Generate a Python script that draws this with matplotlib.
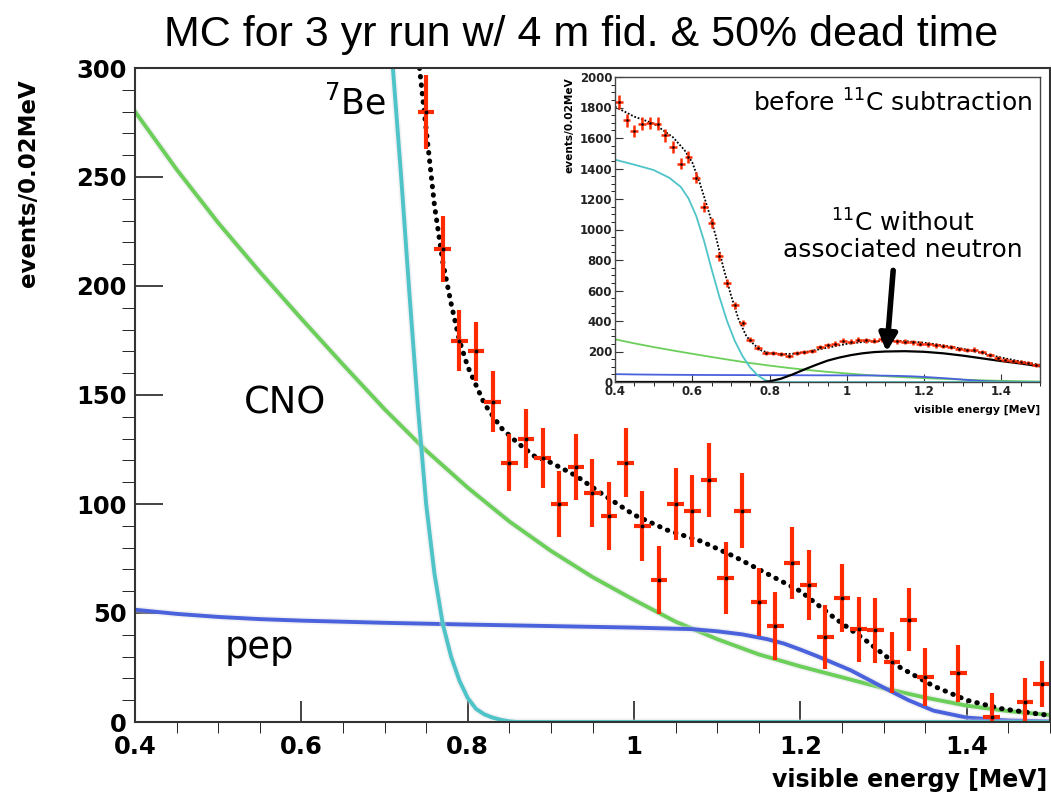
import numpy as np
import matplotlib
matplotlib.use("Agg")
import matplotlib.pyplot as plt
from matplotlib.ticker import MultipleLocator

plt.rcParams['font.family'] = ['DejaVu Sans']
plt.rcParams['mathtext.fontset'] = 'dejavusans'

# ---- main panel: after 11C subtraction ----
data_e = [0.75, 0.77, 0.79, 0.81, 0.83, 0.85, 0.87, 0.89, 0.91, 0.93, 0.95,
          0.97, 0.99, 1.01, 1.03, 1.05, 1.07, 1.09, 1.11, 1.13, 1.15, 1.17,
          1.19, 1.21, 1.23, 1.25, 1.27, 1.29, 1.31, 1.33, 1.35, 1.39, 1.43,
          1.47, 1.49]
data_v = [280, 217, 175, 170, 147, 119, 130, 121, 100, 117, 105,
          94.5, 119, 90, 65, 100, 97, 111, 66, 97, 55, 44,
          73, 63, 39, 57, 42.5, 42, 27.5, 47, 20.6, 22.4, 2.3,
          9, 17.4]
data_err = [17, 15, 14, 13.5, 14, 13, 13.7, 13.7, 15, 15, 15.5,
            15.6, 16, 16, 15.6, 16.5, 16.5, 17, 16.5, 17, 15.7, 15.7,
            16.4, 16, 14.5, 15.7, 15, 15, 14, 14.5, 13.4, 13, 11,
            11, 10.7]

be7_e = [0.70, 0.71, 0.72, 0.73, 0.74, 0.75, 0.76, 0.77, 0.78, 0.79, 0.80,
         0.81, 0.82, 0.83, 0.84, 0.85, 0.86, 1.50]
be7_v = [350, 300, 250, 196, 145, 100, 68, 45, 30, 19, 11,
         6, 3.5, 2, 1, 0.3, 0, 0]

cno_e = [0.40, 0.45, 0.50, 0.55, 0.60, 0.65, 0.70, 0.75, 0.80, 0.85, 0.90,
         0.95, 1.00, 1.05, 1.10, 1.15, 1.20, 1.25, 1.30, 1.35, 1.40, 1.45, 1.50]
cno_v = [280, 253.5, 229, 206.5, 185, 164, 143.5, 124.5, 107.5, 92, 78.5,
         66.5, 56, 46, 38, 31, 25.5, 20.5, 15.5, 11.2, 7.5, 5, 3.2]

pep_e = [0.40, 0.45, 0.50, 0.55, 0.60, 0.70, 0.80, 0.90, 1.00, 1.07, 1.10,
         1.13, 1.16, 1.18, 1.20, 1.22, 1.24, 1.26, 1.28, 1.30, 1.33, 1.36,
         1.40, 1.45, 1.50]
pep_v = [51.5, 49.6, 48.2, 47.2, 46.5, 45.5, 44.7, 44, 43.3, 42.6, 41.6,
         40.2, 38, 36, 33.2, 30.2, 27, 23.8, 19.8, 15.8, 10, 5.2,
         2, 0.7, 0.3]

total_e = [0.742, 0.75, 0.76, 0.77, 0.78, 0.79, 0.80, 0.82, 0.84, 0.86, 0.88,
           0.90, 0.93, 0.96, 1.00, 1.04, 1.08, 1.12, 1.16, 1.20, 1.24, 1.28,
           1.32, 1.36, 1.40, 1.44, 1.48, 1.50]
total_v = [300, 272, 237, 211, 192, 175, 163, 146, 135, 128, 122,
           119, 113, 105, 95, 88, 83, 76, 68, 60, 48, 37,
           25, 16.5, 10, 6.2, 4, 3]

# ---- inset: before 11C subtraction ----
raw_e = [0.41, 0.43, 0.45, 0.47, 0.49, 0.51, 0.53, 0.55, 0.57, 0.59, 0.61,
         0.63, 0.65, 0.67, 0.69, 0.71, 0.73, 0.75, 0.77, 0.79, 0.81, 0.83,
         0.85, 0.87, 0.89, 0.91, 0.93, 0.95, 0.97, 0.99, 1.01, 1.03, 1.05,
         1.07, 1.09, 1.11, 1.13, 1.15, 1.17, 1.19, 1.21, 1.23, 1.25, 1.27,
         1.29, 1.31, 1.33, 1.35, 1.37, 1.39, 1.41, 1.43, 1.45, 1.47, 1.49]
raw_v = [1836, 1716, 1644, 1694, 1698, 1694, 1617, 1541, 1432, 1475, 1340,
         1148, 1045, 824, 649, 503, 387, 278, 225, 190, 190, 185,
         170, 192, 198, 205, 230, 240, 250, 270, 265, 278, 275,
         272, 280, 275, 268, 265, 262, 250, 248, 240, 236, 230,
         215, 210, 212, 195, 178, 160, 145, 135, 130, 126, 112]

raw_total_e = [0.40, 0.45, 0.50, 0.55, 0.58, 0.60, 0.62, 0.64, 0.66, 0.68, 0.70,
               0.72, 0.74, 0.76, 0.78, 0.80, 0.83, 0.86, 0.90, 0.95, 1.00, 1.05,
               1.10, 1.15, 1.20, 1.25, 1.30, 1.35, 1.40, 1.45, 1.50]
raw_total_v = [1805, 1740, 1695, 1605, 1520, 1440, 1300, 1140, 965, 755, 570,
               410, 300, 245, 205, 190, 183, 185, 200, 225, 250, 265,
               270, 268, 258, 240, 218, 190, 160, 135, 112]

raw_be7_e = [0.40, 0.45, 0.50, 0.54, 0.57, 0.59, 0.61, 0.63, 0.65, 0.67, 0.69,
             0.71, 0.73, 0.75, 0.77, 0.79, 0.81, 1.50]
raw_be7_v = [1458, 1425, 1390, 1340, 1280, 1205, 1090, 930, 740, 560, 400,
             270, 170, 95, 42, 10, 0, 0]

c11_e = [0.40, 0.78, 0.80, 0.83, 0.86, 0.89, 0.92, 0.95, 0.98, 1.01, 1.04,
         1.07, 1.10, 1.15, 1.20, 1.25, 1.30, 1.35, 1.40, 1.45, 1.50]
c11_v = [0, 0, 4, 22, 50, 82, 112, 140, 160, 176, 188,
         196, 200, 202, 198, 188, 173, 155, 137, 121, 103]

RED = '#ff2a00'
GREEN = '#6ccf5a'
CYAN = '#4fc4c8'
BLUE = '#4a62dc'
HALO = '#d8d8e0'

W, H = 1051, 800
fig = plt.figure(figsize=(W / 100, H / 100), dpi=100)
fig.patch.set_facecolor('white')

ax = fig.add_axes([135 / W, 1 - 722 / H, (1050 - 135) / W, (722 - 68) / H])

for e, v, c in [(cno_e, cno_v, GREEN), (pep_e, pep_v, BLUE), (be7_e, be7_v, CYAN)]:
    ax.plot(e, v, color=HALO, lw=5, alpha=0.35)
    ax.plot(e, v, color=c, lw=2.8)

ax.plot(total_e, total_v, color='k', lw=3.6, linestyle=(0, (0.1, 1.6)),
        dash_capstyle='round')
ax.errorbar(data_e, data_v, yerr=data_err, xerr=0.01, fmt='o', ms=1.8,
            mfc='k', mec='k', ecolor=RED, elinewidth=3.0, capsize=0)

ax.set_xlim(0.4, 1.5)
ax.set_ylim(0, 300)
ax.xaxis.set_minor_locator(MultipleLocator(0.05))
ax.yaxis.set_major_locator(MultipleLocator(50))
ax.yaxis.set_minor_locator(MultipleLocator(10))
ax.set_xticks([0.4, 0.6, 0.8, 1.0, 1.2, 1.4])
ax.set_xticklabels(['0.4', '0.6', '0.8', '1', '1.2', '1.4'])
ax.tick_params(axis='both', direction='in', width=1.2, colors='#222222')
ax.tick_params(axis='x', which='major', length=15, pad=9)
ax.tick_params(axis='x', which='minor', length=8)
ax.tick_params(axis='y', which='major', length=20, pad=6)
ax.tick_params(axis='y', which='minor', length=9.5)
for lbl in ax.get_xticklabels() + ax.get_yticklabels():
    lbl.set_fontsize(17.5)
    lbl.set_fontweight('bold')
    lbl.set_color('black')
for s in ax.spines.values():
    s.set_linewidth(1.5)
    s.set_color('#333333')

fig.text(1047 / W, 1 - 780 / H, 'visible energy [MeV]', ha='right', va='center',
         fontsize=17, fontweight='bold')
fig.text(29 / W, 1 - 183 / H, 'events/0.02MeV', ha='center', va='center',
         rotation=90, fontsize=16.5, fontweight='bold')
fig.text(581 / W, 1 - 35 / H, 'MC for 3 yr run w/ 4 m fid. & 50% dead time',
         ha='center', va='center', fontsize=31, family='Liberation Sans')

ax.text(0.664, 278.6, '$^{7}$Be', ha='center', va='baseline', fontsize=25)
ax.text(0.581, 141.5, 'CNO', ha='center', va='baseline', fontsize=26.5)
ax.text(0.55, 29.5, 'pep', ha='center', va='baseline', fontsize=26.5)

# ---- inset ----
axi = fig.add_axes([615 / W, 1 - 382 / H, (1040 - 615) / W, (382 - 77) / H])
axi.plot(cno_e, cno_v, color=GREEN, lw=1.3)
axi.plot(pep_e, pep_v, color=BLUE, lw=1.3)
axi.plot(raw_be7_e, raw_be7_v, color=CYAN, lw=1.3)
axi.plot(c11_e, c11_v, color='k', lw=1.6)
axi.plot(raw_total_e, raw_total_v, color='k', lw=1.3, linestyle=(0, (1, 1)))
axi.errorbar(raw_e, raw_v, yerr=np.sqrt(raw_v), xerr=0.01, fmt='o', ms=0.8,
             mfc='k', mec='k', ecolor=RED, elinewidth=1.8, capsize=0)
axi.set_xlim(0.4, 1.5)
axi.set_ylim(0, 2000)
axi.xaxis.set_minor_locator(MultipleLocator(0.05))
axi.yaxis.set_major_locator(MultipleLocator(200))
axi.yaxis.set_minor_locator(MultipleLocator(50))
axi.set_xticks([0.4, 0.6, 0.8, 1.0, 1.2, 1.4])
axi.set_xticklabels(['0.4', '0.6', '0.8', '1', '1.2', '1.4'])
axi.tick_params(axis='both', direction='in', width=0.8, pad=2, colors='#333333')
axi.tick_params(axis='both', which='major', length=6)
axi.tick_params(axis='both', which='minor', length=3)
for lbl in axi.get_xticklabels() + axi.get_yticklabels():
    lbl.set_fontsize(8.5)
    lbl.set_fontweight('bold')
    lbl.set_color('#222222')
for s in axi.spines.values():
    s.set_linewidth(1.0)
    s.set_color('#444444')
axi.set_xlabel('visible energy [MeV]', loc='right', fontsize=7.8,
               fontweight='bold', labelpad=5)
axi.set_ylabel('events/0.02MeV', loc='top', fontsize=7.6,
               fontweight='bold', labelpad=4)

axi.text(1.479, 1830, 'before $^{11}$C subtraction', ha='right', va='center',
         fontsize=18)
axi.text(1.145, 1043, '$^{11}$C without', ha='center', va='center', fontsize=18)
axi.text(1.145, 866, 'associated neutron', ha='center', va='center', fontsize=18)
axi.annotate('', xy=(1.103, 197), xytext=(1.12, 732),
             arrowprops=dict(arrowstyle='-|>', lw=4, color='k',
                             mutation_scale=26, shrinkA=0, shrinkB=0))

fig.savefig('out.png', dpi=100)
